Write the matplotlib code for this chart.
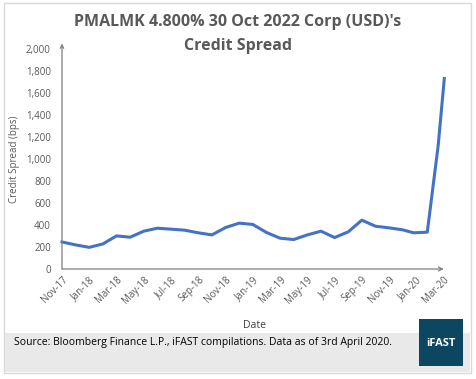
import matplotlib.pyplot as plt
import matplotlib as mpl
from matplotlib.patches import Rectangle

mpl.rcParams['font.family'] = ['Open Sans', 'DejaVu Sans']

# Monthly credit spread (bps), Nov-17 .. Feb-20, then the March 2020 spike
x_pos = [0, 1, 2, 3, 4, 5, 6, 7, 8, 9, 10, 11, 12, 13, 14, 15, 16, 17, 18, 19,
         20, 21, 22, 23, 24, 25, 25.8, 26.8, 27.6, 28.05]
spread = [246, 219, 197, 228, 301, 289, 344, 371, 362, 353, 329, 310, 377, 417,
          405, 332, 280, 268, 310, 344, 286, 338, 444, 389, 374, 356, 329, 335,
          1123, 1732]
tick_labels = ['Nov-17', 'Jan-18', 'Mar-18', 'May-18', 'Jul-18', 'Sep-18', 'Nov-18',
               'Jan-19', 'Mar-19', 'May-19', 'Jul-19', 'Sep-19', 'Nov-19', 'Jan-20', 'Mar-20']
tick_pos = list(range(0, 29, 2))
y_ticks = list(range(0, 2001, 200))

W, H = 476, 379
fig = plt.figure(figsize=(W / 100, H / 100), dpi=100)
fig.patch.set_facecolor('white')

# outer border and footer band (behind the axes)
fig.add_artist(Rectangle((4 / W, 1 - 373 / H), 467 / W, 370 / H, transform=fig.transFigure,
                         facecolor='white', edgecolor='#d9d9d9', linewidth=1, zorder=-10))
fig.add_artist(Rectangle((5 / W, 1 - 372 / H), 465 / W, 39 / H, transform=fig.transFigure,
                         facecolor='#e9e9e9', edgecolor='none', zorder=-9))
fig.add_artist(Rectangle((419 / W, 1 - 366 / H), 44 / W, 47 / H, transform=fig.transFigure,
                         facecolor='#0c4660', edgecolor='none', zorder=-8))
fig.text(441 / W, 1 - 343 / H, 'iFAST', color='white', fontsize=8, fontweight='bold',
         ha='center', va='center')
fig.text(14 / W, 1 - 343 / H,
         'Source: Bloomberg Finance L.P., iFAST compilations. Data as of 3rd April 2020.',
         fontsize=7.5, color='black', ha='left', va='center')

# title
fig.text(238 / W, 1 - 22 / H, "PMALMK 4.800% 30 Oct 2022 Corp (USD)'s", fontsize=11.5,
         fontweight='bold', color='#595959', ha='center', va='center')
fig.text(238 / W, 1 - 46 / H, 'Credit Spread', fontsize=11.5,
         fontweight='bold', color='#595959', ha='center', va='center')

ax = fig.add_axes([62 / W, 1 - 269 / H, 383 / W, 220 / H])
ax.patch.set_alpha(0)
ax.plot(x_pos, spread, color='#4472c4', linewidth=2.2, solid_joinstyle='round', clip_on=False)
ax.set_xlim(0, 28.1)
ax.set_ylim(0, 2000)

for s in ax.spines.values():
    s.set_visible(False)

# axis lines with arrow heads
ax.annotate('', xy=(0.997, 0), xytext=(0, 0), xycoords='axes fraction',
            arrowprops=dict(arrowstyle='->', color='#7f7f7f', lw=0.9, mutation_scale=7,
                            shrinkA=0, shrinkB=0))
ax.annotate('', xy=(0, 1.025), xytext=(0, 0), xycoords='axes fraction',
            arrowprops=dict(arrowstyle='->', color='#7f7f7f', lw=0.9, mutation_scale=6,
                            shrinkA=0, shrinkB=0))

ax.set_yticks(y_ticks)
ax.set_yticklabels([f'{v:,}' for v in y_ticks])
ax.set_xticks(tick_pos)
ax.set_xticklabels(tick_labels, rotation=45, ha='right', rotation_mode='anchor')
ax.tick_params(axis='both', length=0, labelsize=7, labelcolor='#595959')
ax.tick_params(axis='y', pad=8)
ax.tick_params(axis='x', pad=4)

ax.set_ylabel('Credit Spread (bps)', fontsize=7, color='#595959')
ax.yaxis.set_label_coords(-0.11, 0.5)
fig.text(255 / W, 1 - 325 / H, 'Date', fontsize=7.5, color='#404040', ha='center', va='center')

fig.savefig('out.png', dpi=100)
